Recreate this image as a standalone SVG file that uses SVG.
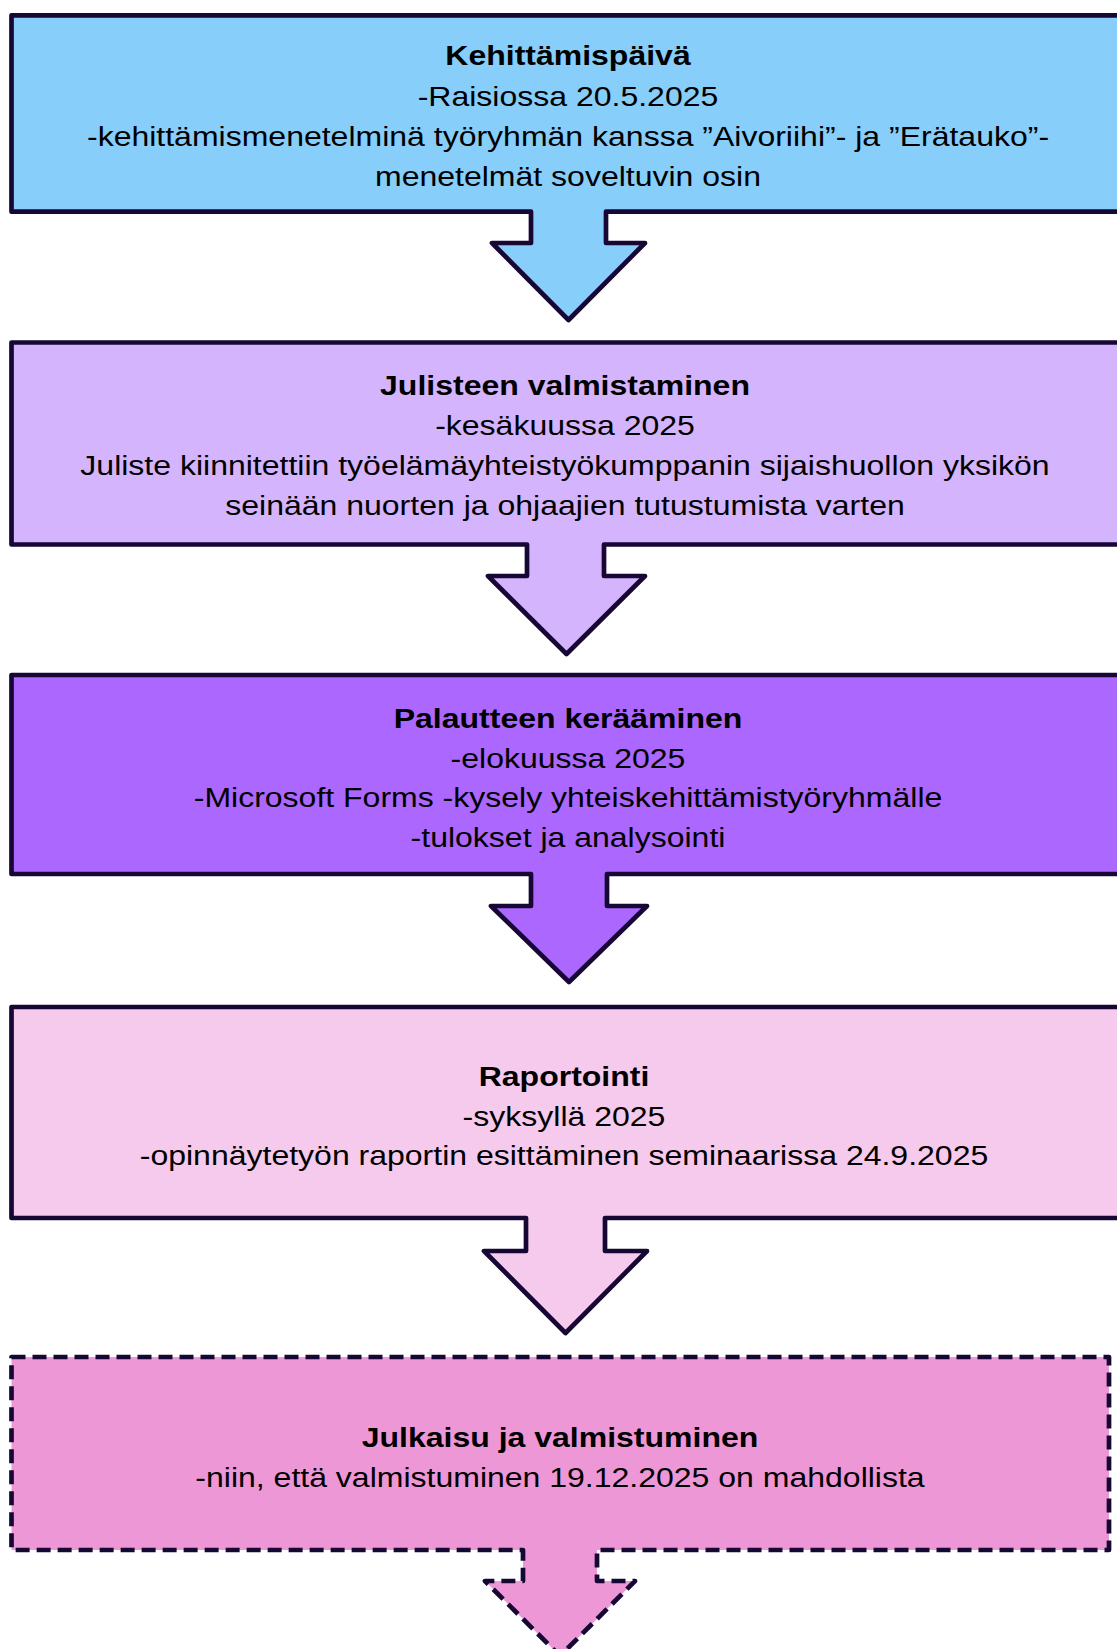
<svg xmlns="http://www.w3.org/2000/svg" width="1117" height="1649" viewBox="0 0 1117 1649">
<style>
.shape{stroke:#170735;stroke-width:4.7;stroke-linejoin:round}
.dash{stroke-dasharray:14 7}
text{font-family:"Liberation Sans",Arial,sans-serif;font-size:28.5px;fill:#000;text-anchor:middle}
.b{font-weight:bold}
</style>
<rect width="1117" height="1649" fill="#fff"/>
<g id="node1">
<path class="shape" fill="#87CEFA" d="M11.5,15.3 H1125 V211.7 H606 V243 H645 L568.5,320 L492,243 H531 V211.7 H11.5 Z"/>
<g transform="translate(568,0) scale(1.123,1)">
<text class="b" x="0" y="65">Kehittämispäivä</text>
<text x="0" y="106">-Raisiossa 20.5.2025</text>
<text x="0" y="146">-kehittämismenetelminä työryhmän kanssa ”Aivoriihi”- ja ”Erätauko”-</text>
<text x="0" y="186">menetelmät soveltuvin osin</text>
</g>
</g>
<g id="node2">
<path class="shape" fill="#D5B4FE" d="M11.5,342.5 H1125 V544.5 H604 V576 H645 L566.5,654 L488,576 H527 V544.5 H11.5 Z"/>
<g transform="translate(565,0) scale(1.123,1)">
<text class="b" x="0" y="395">Julisteen valmistaminen</text>
<text x="0" y="435">-kesäkuussa 2025</text>
<text x="0" y="475">Juliste kiinnitettiin työelämäyhteistyökumppanin sijaishuollon yksikön</text>
<text x="0" y="515">seinään nuorten ja ohjaajien tutustumista varten</text>
</g>
</g>
<g id="node3">
<path class="shape" fill="#AB67FE" d="M11.5,675 H1125 V874 H607 V906 H647 L569,982 L491,906 H531 V874 H11.5 Z"/>
<g transform="translate(568,0) scale(1.123,1)">
<text class="b" x="0" y="728">Palautteen kerääminen</text>
<text x="0" y="768">-elokuussa 2025</text>
<text x="0" y="807">-Microsoft Forms -kysely yhteiskehittämistyöryhmälle</text>
<text x="0" y="847">-tulokset ja analysointi</text>
</g>
</g>
<g id="node4">
<path class="shape" fill="#F6CAEC" d="M11.5,1007 H1125 V1218 H605 V1251 H647 L565.5,1333 L484,1251 H526 V1218 H11.5 Z"/>
<g transform="translate(564,0) scale(1.123,1)">
<text class="b" x="0" y="1086">Raportointi</text>
<text x="0" y="1126">-syksyllä 2025</text>
<text x="0" y="1165">-opinnäytetyön raportin esittäminen seminaarissa 24.9.2025</text>
</g>
</g>
<g id="node5">
<path class="shape dash" fill="#EE97D7" d="M11.5,1357 H1109 V1550 H597 V1581 H635 L560,1656 L485,1581 H523 V1550 H11.5 Z"/>
<g transform="translate(560,0) scale(1.123,1)">
<text class="b" x="0" y="1447">Julkaisu ja valmistuminen</text>
<text x="0" y="1487">-niin, että valmistuminen 19.12.2025 on mahdollista</text>
</g>
</g>
<g id="connectors"/>
</svg>
